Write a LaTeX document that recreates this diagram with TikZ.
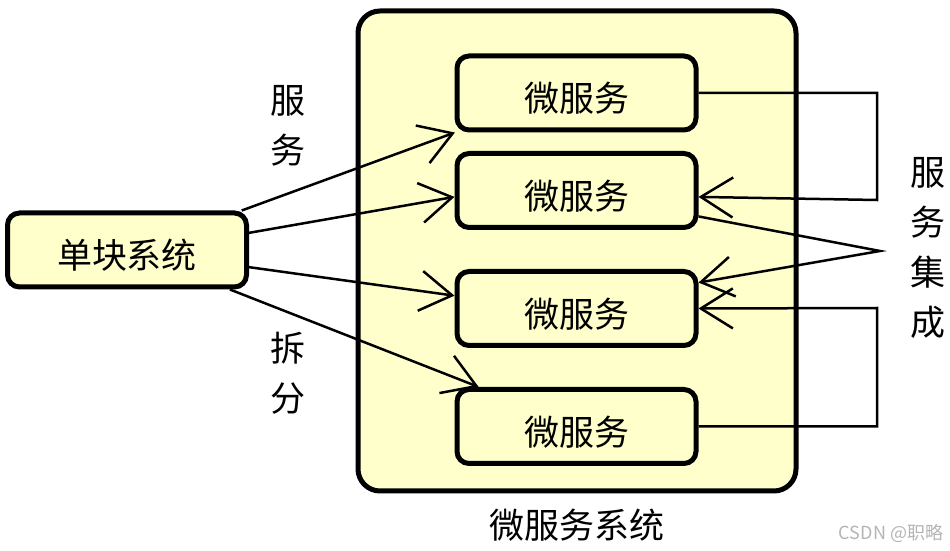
\documentclass[tikz,border=0pt]{standalone}
\usepackage{fontspec}
\usepackage{tikz}
\usetikzlibrary{arrows.meta}
\newfontfamily\cjk{Noto Sans CJK SC}
\definecolor{PaleYellow}{HTML}{FFFFCC}
\definecolor{MarkGray}{HTML}{B4B4B4}

\begin{document}
\begin{tikzpicture}[x=0.5pt, y=-0.5pt,
  sysbox/.style={rounded corners=11pt, draw=black, line width=2.5pt,
               fill=PaleYellow, minimum width=219pt, minimum height=240pt},
  svcbox/.style={rounded corners=6pt, draw=black, line width=2.5pt,
               fill=PaleYellow, minimum width=119.5pt, minimum height=37pt,
               text height=19pt, text depth=0pt,
               font=\cjk\fontsize{17.5}{20}\selectfont},
  sidetext/.style={font=\cjk\fontsize{17.5}{25}\selectfont, align=center},
  link/.style={-{Straight Barb[length=16pt, width=20pt]}, line width=1.25pt, draw=black}
]
\useasboundingbox (0,0) rectangle (950,551);
\node[sysbox] (sys) at (577,251) {};
\node[sidetext] (sysname) at (577,525) {微服务系统};
\node[svcbox] (mono) at (127,250) {单块系统};
\node[svcbox] (ms1) at (576.5,93) {微服务};
\node[svcbox] (ms2) at (576.5,190.5) {微服务};
\node[svcbox] (ms3) at (576.5,308.5) {微服务};
\node[svcbox] (ms4) at (576.5,426.5) {微服务};
% split
\draw[link] (mono.19) -- (ms1.198);
\draw[link] (mono.8) -- (ms2.183);
\draw[link] (mono.-8) -- (ms3.174);
\draw[link] (mono.-21) -- (ms4.158);
\node[sidetext] (svc) at (288,126) {服\\务};
\node[sidetext] (split) at (288,373) {拆\\分};
% integration
\coordinate (k1) at (877,200);
\coordinate (k2) at (880,251);
\coordinate (k3) at (877,308);
\draw[link] (ms1.east) -| (k1) -- (ms2.-3);
\draw[link] (ms2.-12) -- (k2) -- (ms3.12);
\draw[link] (ms4.east) -| (k3) -- (ms3.east);
\node[sidetext] (integ) at (928,248) {服\\务\\集\\成};
\node[font=\cjk\fontsize{9}{11}\selectfont, text=MarkGray] (mark) at (891,533) {CSDN @职略};
\end{tikzpicture}
\end{document}
